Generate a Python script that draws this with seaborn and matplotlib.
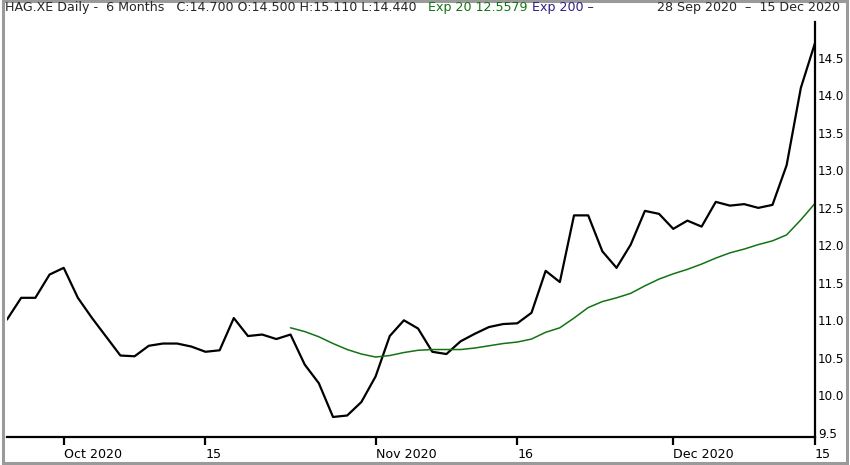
import numpy as np
import pandas as pd
import seaborn as sns
import matplotlib.pyplot as plt
from matplotlib.patches import Rectangle

# trading days shown (Xetra, no holidays in this window)
dates = pd.bdate_range("2020-09-25", "2020-12-15")

close = [
    11.01, 11.30, 11.30, 11.61, 11.70, 11.30, 11.03, 10.78, 10.53, 10.52,
    10.66, 10.69, 10.69, 10.65, 10.58, 10.60, 11.03, 10.79, 10.81, 10.75,
    10.81, 10.41, 10.16, 9.71, 9.73, 9.91, 10.25, 10.79, 11.00, 10.89,
    10.58, 10.55, 10.72, 10.82, 10.91, 10.95, 10.96, 11.10, 11.66, 11.51,
    12.40, 12.40, 11.92, 11.70, 12.01, 12.46, 12.42, 12.22, 12.33, 12.25,
    12.58, 12.53, 12.55, 12.50, 12.54, 13.07, 14.10, 14.70,
]

# Exp 20 only drawn from the 21st bar on
exp20 = [np.nan] * 20 + [
    10.90, 10.85, 10.78, 10.69, 10.61, 10.55, 10.51, 10.53, 10.57, 10.60,
    10.61, 10.61, 10.61, 10.63, 10.66, 10.69, 10.71, 10.75, 10.84, 10.90,
    11.03, 11.17, 11.25, 11.30, 11.36, 11.46, 11.55, 11.62, 11.68, 11.75,
    11.83, 11.90, 11.95, 12.01, 12.06, 12.14, 12.34, 12.56,
]

tick_dates = ["2020-10-01", "2020-10-15", "2020-11-02", "2020-11-16", "2020-12-01", "2020-12-15"]
tick_labels = ["Oct 2020", "15", "Nov 2020", "16", "Dec 2020", "15"]
y_ticks = [9.5, 10.0, 10.5, 11.0, 11.5, 12.0, 12.5, 13.0, 13.5, 14.0, 14.5]

df = pd.DataFrame({"day": np.arange(len(dates)), "close": close, "exp20": exp20})

sns.set_style("white")
plt.rcParams["font.family"] = ["DejaVu Sans"]
fs = 9.1

fig = plt.figure(figsize=(8.5, 4.65), dpi=100)
ax = fig.add_axes([7 / 850, 1 - 437 / 465, 808 / 850, 415 / 465])

sns.lineplot(data=df, x="day", y="close", color="black", linewidth=1.6, ax=ax)
sns.lineplot(data=df, x="day", y="exp20", color="#137313", linewidth=1.1, ax=ax)

ax.set_xlim(0, len(dates) - 1)
ax.set_ylim(9.443, 14.98)
ax.set_xlabel("")
ax.set_ylabel("")

for s in ["left", "top"]:
    ax.spines[s].set_visible(False)
for s in ["bottom", "right"]:
    ax.spines[s].set_color("black")
    ax.spines[s].set_linewidth(1.6)

tick_pos = [dates.get_loc(pd.Timestamp(d)) for d in tick_dates]
ax.set_xticks(tick_pos)
ax.set_xticklabels(tick_labels, ha="left", fontsize=fs)
ax.tick_params(axis="x", direction="out", length=6, width=1.6, pad=2,
               bottom=True, colors="black")

ax.yaxis.tick_right()
ax.set_yticks(y_ticks)
ax.set_yticklabels([f"{v:.1f}" for v in y_ticks], fontsize=8.6)
ax.tick_params(axis="y", length=0, pad=2, colors="black")

# header line
ty = 1 - 11 / 465
fig.text(5 / 850, ty, "HAG.XE Daily -  6 Months   C:14.700 O:14.500 H:15.110 L:14.440",
         fontsize=fs, va="baseline", ha="left")
fig.text(428 / 850, ty, "Exp 20 12.5579", color="#137313", fontsize=fs, va="baseline")
fig.text(532 / 850, ty, "Exp 200 \u2013", color="#2e1f86", fontsize=fs, va="baseline")
fig.text(840 / 850, ty, "28 Sep 2020  \u2013  15 Dec 2020", fontsize=fs,
         va="baseline", ha="right")

# grey outer frame
fig.patches.append(Rectangle((0.003, 0.004), 0.994, 0.994, transform=fig.transFigure,
                             fill=False, edgecolor="#9a9a9a", linewidth=2.2))

fig.savefig("out.png", dpi=100)
